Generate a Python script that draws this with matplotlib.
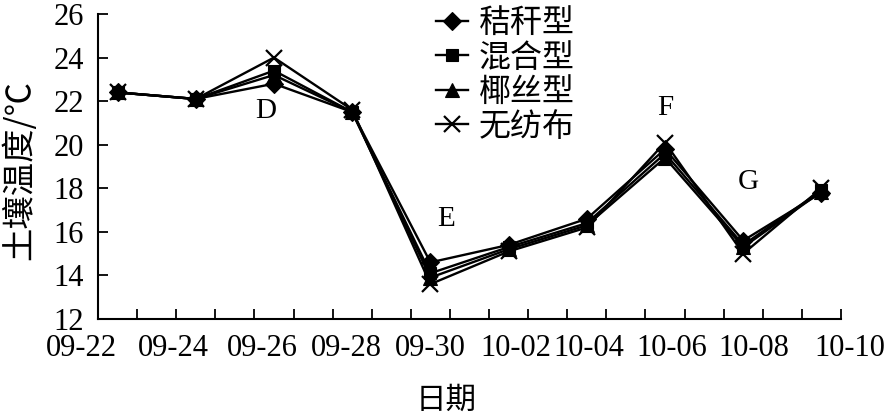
import matplotlib
matplotlib.use("Agg")
import matplotlib.pyplot as plt
from matplotlib.ticker import MultipleLocator, NullLocator

# ---- data ----
n_points = 10
straw = [22.4, 22.1, 22.8, 21.5, 14.6, 15.4, 16.6, 19.8, 15.6, 17.8]      # 秸秆型
mixed = [22.4, 22.1, 23.4, 21.5, 14.1, 15.3, 16.4, 19.6, 15.4, 17.9]      # 混合型
coir = [22.4, 22.1, 23.2, 21.5, 13.9, 15.2, 16.3, 19.4, 15.3, 17.85]      # 椰丝型
nonwoven = [22.4, 22.1, 24.0, 21.6, 13.6, 15.1, 16.2, 20.1, 15.0, 18.0]   # 无纺布
series_names = ["秸秆型", "混合型", "椰丝型", "无纺布"]
date_labels = ["09-22", "09-24", "09-26", "09-28", "09-30",
               "10-02", "10-04", "10-06", "10-08", "10-10"]
annot_labels = ["D", "E", "F", "G"]

# ---- layout ----
label_pos = [-0.46, 0.72, 1.85, 2.93, 4.00, 5.09, 6.02, 7.08, 8.14, 9.36]
annot_pos = [(1.90, 21.54), (4.20, 16.59), (7.00, 21.68), (8.07, 18.28)]

serif = ["Liberation Serif", "DejaVu Serif"]
cjk = ["Noto Sans CJK SC", "Liberation Serif"]

fig = plt.figure(figsize=(8.85, 4.17), dpi=100)
ax = fig.add_axes([98/885, 1-319/417, (841-98)/885, (319-14)/417])

x = list(range(n_points))
styles = [("D", 9), ("s", 8), ("^", 9.5), ("x", 11)]
for vals, name, (mk, ms) in zip([straw, mixed, coir, nonwoven], series_names, styles):
    ax.plot(x, vals, color="black", lw=1.7, marker=mk, markersize=ms,
            markeredgewidth=1.6 if mk == "x" else 0.8, markerfacecolor="black",
            markeredgecolor="black", label=name)

ax.set_xlim(-0.25, 9.25)
ax.set_ylim(12, 26)
ax.spines["top"].set_visible(False)
ax.spines["right"].set_visible(False)
for s in ("left", "bottom"):
    ax.spines[s].set_linewidth(1.5)

ax.yaxis.set_major_locator(MultipleLocator(2))
ax.tick_params(axis="y", direction="in", length=7, width=1.3, pad=10,
               labelsize=22)
for lab in ax.get_yticklabels():
    lab.set_fontfamily(serif)

# x axis: tick marks every half category, date labels drawn as text
ax.xaxis.set_major_locator(MultipleLocator(0.5, offset=0.25))
ax.xaxis.set_minor_locator(NullLocator())
ax.tick_params(axis="x", which="major", direction="in", length=7, width=1.3,
               labelbottom=False)
xt = ax.get_xaxis_transform()
for lbl, pos in zip(date_labels, label_pos):
    ax.text(pos, -0.098, lbl, transform=xt, fontsize=22, fontfamily=serif,
            ha="center", va="center", clip_on=False)

ax.set_ylabel("土壤温度/℃", fontsize=24, fontfamily=cjk)
ax.yaxis.set_label_coords(-0.082, 0.49)
ax.set_xlabel("日期", fontsize=22, fontfamily=cjk)
ax.xaxis.set_label_coords(0.468, -0.215)

for t, (ax_x, ax_y) in zip(annot_labels, annot_pos):
    ax.text(ax_x, ax_y, t, fontsize=21, fontfamily=serif, ha="center", va="center")

leg = ax.legend(loc="upper left", bbox_to_anchor=(436/885, 1-7/417),
                bbox_transform=fig.transFigure, frameon=False,
                prop={"family": cjk, "size": 23}, handlelength=1.0,
                handletextpad=0.35, labelspacing=0.08, borderpad=0,
                borderaxespad=0)

fig.savefig("out.png", dpi=100)
